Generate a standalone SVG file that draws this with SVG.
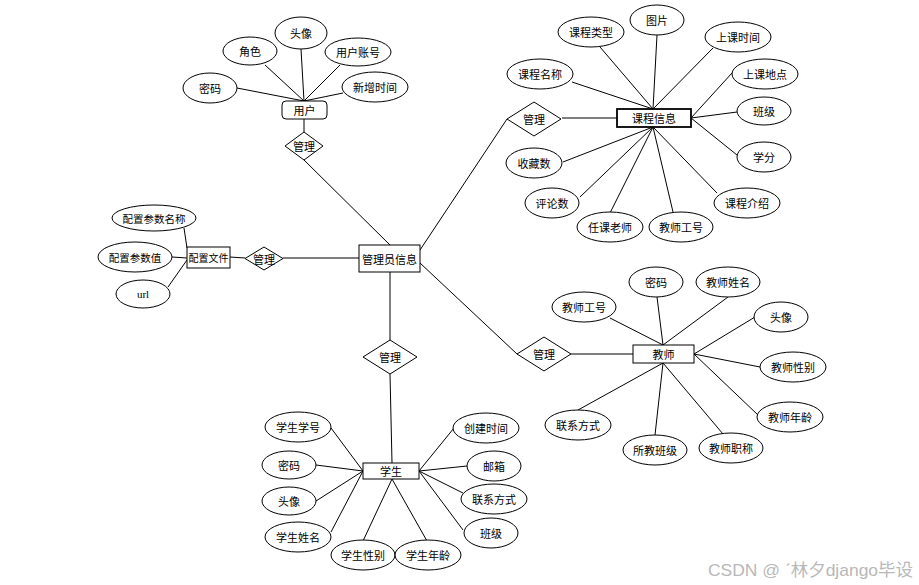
<svg xmlns="http://www.w3.org/2000/svg" width="919" height="585" viewBox="0 0 919 585">
<style>
.e{fill:#fff;stroke:#000;stroke-width:1}
.r{fill:#fff;stroke:#000;stroke-width:1}
.d{fill:#fff;stroke:#000;stroke-width:1}
text{font-family:"Noto Sans CJK SC","Liberation Sans",sans-serif;font-size:11px;fill:#000;text-anchor:middle;dominant-baseline:central}
#connectors line{stroke:#000;stroke-width:1}
.wm{font-family:"Liberation Sans","Noto Sans CJK SC",sans-serif;font-size:17px;fill:#b8b8b8;text-anchor:start;dominant-baseline:auto}
</style>
<rect width="919" height="585" fill="#fff"/>
<g id="connectors">
<line x1="237" y1="88" x2="304" y2="101"/>
<line x1="265" y1="65" x2="304" y2="101"/>
<line x1="301" y1="49" x2="304" y2="101"/>
<line x1="340" y1="65" x2="304" y2="101"/>
<line x1="343" y1="93" x2="304" y2="101"/>
<line x1="304" y1="119" x2="304" y2="132"/>
<line x1="304" y1="160" x2="390" y2="245"/>
<line x1="184" y1="228" x2="187" y2="248"/>
<line x1="172" y1="257" x2="187" y2="258"/>
<line x1="168" y1="287" x2="187" y2="260"/>
<line x1="230" y1="257" x2="245" y2="258"/>
<line x1="283" y1="258" x2="359" y2="258"/>
<line x1="420" y1="250" x2="507" y2="119"/>
<line x1="420" y1="263" x2="517" y2="354"/>
<line x1="390" y1="272" x2="390" y2="340"/>
<line x1="562" y1="118" x2="617" y2="118"/>
<line x1="600" y1="47" x2="653" y2="109"/>
<line x1="657" y1="35" x2="653" y2="109"/>
<line x1="713" y1="48" x2="653" y2="109"/>
<line x1="572" y1="82" x2="653" y2="109"/>
<line x1="732" y1="73" x2="691" y2="118"/>
<line x1="737" y1="112" x2="691" y2="118"/>
<line x1="737" y1="155" x2="691" y2="118"/>
<line x1="563" y1="162" x2="653" y2="127"/>
<line x1="580" y1="197" x2="653" y2="127"/>
<line x1="610" y1="213" x2="653" y2="127"/>
<line x1="673" y1="212" x2="653" y2="127"/>
<line x1="717" y1="193" x2="653" y2="127"/>
<line x1="571" y1="354" x2="633" y2="354"/>
<line x1="610" y1="318" x2="663" y2="345"/>
<line x1="657" y1="297" x2="663" y2="345"/>
<line x1="728" y1="297" x2="663" y2="345"/>
<line x1="755" y1="317" x2="694" y2="354"/>
<line x1="760" y1="367" x2="694" y2="354"/>
<line x1="758" y1="415" x2="694" y2="354"/>
<line x1="578" y1="410" x2="663" y2="363"/>
<line x1="655" y1="435" x2="663" y2="363"/>
<line x1="723" y1="434" x2="663" y2="363"/>
<line x1="390" y1="374" x2="392" y2="463"/>
<line x1="331" y1="428" x2="363" y2="471"/>
<line x1="316" y1="465" x2="363" y2="471"/>
<line x1="316" y1="501" x2="363" y2="471"/>
<line x1="331" y1="532" x2="363" y2="471"/>
<line x1="363" y1="541" x2="392" y2="479"/>
<line x1="427" y1="541" x2="392" y2="479"/>
<line x1="454" y1="428" x2="419" y2="471"/>
<line x1="467" y1="466" x2="419" y2="471"/>
<line x1="463" y1="493" x2="419" y2="471"/>
<line x1="463" y1="530" x2="419" y2="471"/>
</g>

<g id="admin"><rect class="r" x="359" y="245" width="61" height="27"/><text x="389.5" y="258.5">管理员信息</text></g>

<g id="user"><rect class="r" x="282" y="101" width="45" height="18" rx="4"/><text x="304.5" y="110">用户</text></g>
<g id="user-rel"><polygon class="d" points="304,132 323,146 304,160 285,146"/><text x="304" y="146">管理</text></g>
<g id="u-tx"><ellipse class="e" cx="301" cy="33" rx="26" ry="16"/><text x="301" y="33">头像</text></g>
<g id="u-js"><ellipse class="e" cx="250" cy="51" rx="27" ry="14"/><text x="250" y="51">角色</text></g>
<g id="u-zh"><ellipse class="e" cx="358" cy="52" rx="33" ry="14"/><text x="358" y="52">用户账号</text></g>
<g id="u-mm"><ellipse class="e" cx="210" cy="88" rx="27" ry="15"/><text x="210" y="88">密码</text></g>
<g id="u-sj"><ellipse class="e" cx="375" cy="87" rx="33" ry="15"/><text x="375" y="87">新增时间</text></g>

<g id="config"><rect class="r" x="187" y="247" width="43" height="21"/><text x="208.5" y="257.5" style="font-size:10px">配置文件</text></g>
<g id="config-rel"><polygon class="d" points="264,247 283,258.5 264,270 245,258.5"/><text x="264" y="258.5">管理</text></g>
<g id="c-mc"><ellipse class="e" cx="154" cy="218" rx="42" ry="13"/><text x="154" y="218" style="font-size:10.5px">配置参数名称</text></g>
<g id="c-z"><ellipse class="e" cx="135" cy="257" rx="37" ry="15"/><text x="135" y="257" style="font-size:10.5px">配置参数值</text></g>
<g id="c-url"><ellipse class="e" cx="143" cy="294" rx="27" ry="14"/><text x="143" y="294" style="font-family:'Liberation Serif',serif">url</text></g>

<g id="course"><rect class="r" x="617" y="109" width="74" height="18" style="stroke-width:1.8"/><text x="654" y="118">课程信息</text></g>
<g id="course-rel"><polygon class="d" points="534,102 561,119 534,136 507,119"/><text x="534" y="119">管理</text></g>
<g id="k-tp"><ellipse class="e" cx="657" cy="20" rx="27" ry="15"/><text x="657" y="20">图片</text></g>
<g id="k-lx"><ellipse class="e" cx="591" cy="32" rx="33" ry="15"/><text x="591" y="32">课程类型</text></g>
<g id="k-sj"><ellipse class="e" cx="738" cy="37" rx="33" ry="15"/><text x="738" y="37">上课时间</text></g>
<g id="k-mc"><ellipse class="e" cx="540" cy="74" rx="33" ry="15"/><text x="540" y="74">课程名称</text></g>
<g id="k-dd"><ellipse class="e" cx="765" cy="74" rx="33" ry="15"/><text x="765" y="74">上课地点</text></g>
<g id="k-bj"><ellipse class="e" cx="764" cy="111" rx="27" ry="14"/><text x="764" y="111">班级</text></g>
<g id="k-xf"><ellipse class="e" cx="764" cy="157" rx="27" ry="15"/><text x="764" y="157">学分</text></g>
<g id="k-sc"><ellipse class="e" cx="534" cy="163" rx="28" ry="15"/><text x="534" y="163">收藏数</text></g>
<g id="k-pl"><ellipse class="e" cx="552" cy="203" rx="27" ry="15"/><text x="552" y="203">评论数</text></g>
<g id="k-rk"><ellipse class="e" cx="610" cy="227" rx="33" ry="15"/><text x="610" y="227">任课老师</text></g>
<g id="k-gh"><ellipse class="e" cx="681" cy="227" rx="32" ry="15"/><text x="681" y="227">教师工号</text></g>
<g id="k-js"><ellipse class="e" cx="747" cy="203" rx="33" ry="15"/><text x="747" y="203">课程介绍</text></g>

<g id="teacher"><rect class="r" x="633" y="345" width="61" height="18"/><text x="663.5" y="354">教师</text></g>
<g id="teacher-rel"><polygon class="d" points="544,337 571,354 544,371 517,354"/><text x="544" y="354">管理</text></g>
<g id="t-mm"><ellipse class="e" cx="656" cy="282" rx="27" ry="15"/><text x="656" y="282">密码</text></g>
<g id="t-xm"><ellipse class="e" cx="728" cy="282" rx="32" ry="15"/><text x="728" y="282">教师姓名</text></g>
<g id="t-gh"><ellipse class="e" cx="584" cy="307" rx="32" ry="15"/><text x="584" y="307">教师工号</text></g>
<g id="t-tx"><ellipse class="e" cx="781" cy="317" rx="27" ry="15"/><text x="781" y="317">头像</text></g>
<g id="t-xb"><ellipse class="e" cx="793" cy="367" rx="33" ry="15"/><text x="793" y="367">教师性别</text></g>
<g id="t-nl"><ellipse class="e" cx="790" cy="417" rx="33" ry="15"/><text x="790" y="417">教师年龄</text></g>
<g id="t-lx"><ellipse class="e" cx="578" cy="425" rx="33" ry="15"/><text x="578" y="425">联系方式</text></g>
<g id="t-bj"><ellipse class="e" cx="655" cy="450" rx="32" ry="15"/><text x="655" y="450">所教班级</text></g>
<g id="t-zc"><ellipse class="e" cx="731" cy="448" rx="32" ry="15"/><text x="731" y="448">教师职称</text></g>

<g id="student"><rect class="r" x="363" y="463" width="56" height="16"/><text x="391" y="471">学生</text></g>
<g id="student-rel"><polygon class="d" points="390,340 417,357 390,374 363,357"/><text x="390" y="357">管理</text></g>
<g id="s-xh"><ellipse class="e" cx="298" cy="427" rx="33" ry="15"/><text x="298" y="427">学生学号</text></g>
<g id="s-mm"><ellipse class="e" cx="289" cy="465" rx="27" ry="14"/><text x="289" y="465">密码</text></g>
<g id="s-tx"><ellipse class="e" cx="289" cy="501" rx="27" ry="14"/><text x="289" y="501">头像</text></g>
<g id="s-xm"><ellipse class="e" cx="298" cy="537" rx="33" ry="15"/><text x="298" y="537">学生姓名</text></g>
<g id="s-xb"><ellipse class="e" cx="363" cy="555" rx="32" ry="15"/><text x="363" y="555">学生性别</text></g>
<g id="s-nl"><ellipse class="e" cx="428" cy="555" rx="33" ry="15"/><text x="428" y="555">学生年龄</text></g>
<g id="s-cj"><ellipse class="e" cx="486" cy="428" rx="33" ry="15"/><text x="486" y="428">创建时间</text></g>
<g id="s-yx"><ellipse class="e" cx="494" cy="466" rx="27" ry="15"/><text x="494" y="466">邮箱</text></g>
<g id="s-lx"><ellipse class="e" cx="494" cy="499" rx="33" ry="15"/><text x="494" y="499">联系方式</text></g>
<g id="s-bj"><ellipse class="e" cx="491" cy="533" rx="27" ry="15"/><text x="491" y="533">班级</text></g>

<text class="wm" x="708" y="576" textLength="205" lengthAdjust="spacingAndGlyphs">CSDN @ ˊ林夕django毕设</text>
</svg>
